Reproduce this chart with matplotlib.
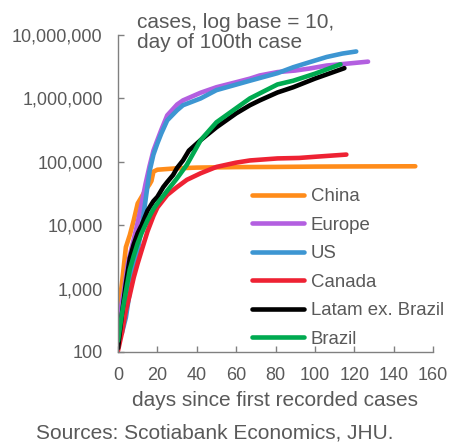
import matplotlib
matplotlib.use("Agg")
import matplotlib.pyplot as plt
from matplotlib.ticker import FuncFormatter, FixedLocator

# Casos acumulados por región, días desde el caso 100
china_days = [0, 2, 4, 6, 8, 10, 12, 14, 16, 17, 18, 20, 25, 30, 40, 60, 80, 100, 120, 151]
china_vals = [400, 1200, 4500, 7000, 12000, 22000, 28000, 36000, 44000, 50000, 70000, 75000,
              77000, 79000, 81000, 82500, 83000, 84000, 84500, 85000]

europe_days = [0, 3, 5, 8, 10, 12, 14, 16, 18, 20, 22, 25, 30, 33, 42, 50, 60, 67, 72, 81,
               90, 97, 106, 115, 127]
europe_vals = [290, 900, 2500, 6000, 11000, 22000, 45000, 85000, 150000, 220000, 320000,
               540000, 800000, 930000, 1230000, 1500000, 1800000, 2050000, 2300000, 2600000,
               2750000, 2950000, 3300000, 3500000, 3800000]

us_days = [0, 2, 4, 6, 8, 10, 12, 14, 16, 18, 20, 22, 25, 30, 33, 42, 50, 60, 67, 81, 89,
           97, 106, 114, 121]
us_vals = [180, 200, 350, 900, 2000, 4000, 9000, 25000, 70000, 130000, 195000, 280000,
           450000, 650000, 780000, 1000000, 1350000, 1650000, 1900000, 2500000, 3100000,
           3700000, 4500000, 5100000, 5500000]

canada_days = [0, 2, 4, 6, 8, 10, 12, 15, 18, 20, 25, 30, 35, 42, 50, 60, 67, 81, 92, 100, 116]
canada_vals = [105, 200, 450, 800, 1500, 2500, 4000, 8000, 14000, 19000, 30000, 40000, 52000,
               66000, 83000, 97000, 105000, 113000, 115000, 120000, 130000]

latam_days = [0, 2, 4, 6, 8, 10, 12, 15, 18, 20, 23, 25, 28, 30, 33, 36, 42, 50, 60, 67, 72,
              81, 89, 100, 115]
latam_vals = [115, 400, 1200, 3000, 5000, 7500, 10000, 17000, 24000, 28000, 40000, 48000,
              62000, 80000, 105000, 150000, 220000, 350000, 580000, 780000, 930000, 1240000,
              1500000, 2050000, 3000000]

brazil_days = [0, 2, 4, 6, 8, 10, 12, 15, 18, 20, 25, 30, 35, 42, 50, 60, 67, 72, 81, 89,
               100, 113]
brazil_vals = [150, 400, 900, 2000, 3300, 5200, 7500, 12000, 18000, 22000, 35000, 55000,
               90000, 220000, 420000, 700000, 1000000, 1200000, 1660000, 1900000, 2450000,
               3450000]

y_ticks = [100, 1000, 10000, 100000, 1000000, 10000000]
x_ticks = [0, 20, 40, 60, 80, 100, 120, 140, 160]

GRAY = "#595959"
plt.rcParams["font.family"] = ["Liberation Sans", "DejaVu Sans"]

fig = plt.figure(figsize=(4.49, 4.45), dpi=100)
ax = fig.add_axes([118 / 449, 1 - 352 / 445, (433 - 118) / 449, (352 - 35) / 445])

series = [
    ("China", china_days, china_vals, "#FF8C1A"),
    ("Europe", europe_days, europe_vals, "#B35FE0"),
    ("US", us_days, us_vals, "#3D96D2"),
    ("Canada", canada_days, canada_vals, "#EE2233"),
    ("Latam ex. Brazil", latam_days, latam_vals, "#000000"),
    ("Brazil", brazil_days, brazil_vals, "#00AA50"),
]
for name, d, v, c in series:
    ax.plot(d, v, color=c, linewidth=3.3, label=name, solid_capstyle="round")

ax.set_yscale("log")
ax.set_xlim(0, 160)
ax.set_ylim(100, 10000000)
ax.yaxis.set_major_locator(FixedLocator(y_ticks))
ax.yaxis.set_minor_locator(FixedLocator([]))
ax.yaxis.set_major_formatter(FuncFormatter(lambda v, p: f"{int(v):,}"))
ax.set_xticks(x_ticks)

for s in ["top", "right"]:
    ax.spines[s].set_visible(False)
for s in ["left", "bottom"]:
    ax.spines[s].set_color("#808080")
    ax.spines[s].set_linewidth(1.0)

ax.tick_params(axis="both", direction="in", length=4, width=1.0, color="#808080",
               labelsize=13, labelcolor=GRAY)
ax.tick_params(axis="y", pad=11)
ax.tick_params(axis="x", pad=11)

ax.set_xlabel("days since first recorded cases", fontsize=15, color=GRAY, labelpad=5)

leg = ax.legend(loc="upper left", bbox_to_anchor=(252 / 449, 1 - 188 / 445),
                bbox_transform=fig.transFigure, frameon=False, fontsize=13.4,
                handlelength=2.8, handletextpad=0.35, labelspacing=0.62,
                borderaxespad=0, borderpad=0)
for t in leg.get_texts():
    t.set_color(GRAY)

fig.text(137 / 449, 1 - 13 / 445, "cases, log base = 10,\nday of 100th case",
         fontsize=15, color=GRAY, va="top", ha="left", linespacing=1.1)
fig.text(36 / 449, 1 - 433 / 445, "Sources: Scotiabank Economics, JHU.",
         fontsize=15, color=GRAY, va="center", ha="left")

fig.savefig("out.png", dpi=100)
